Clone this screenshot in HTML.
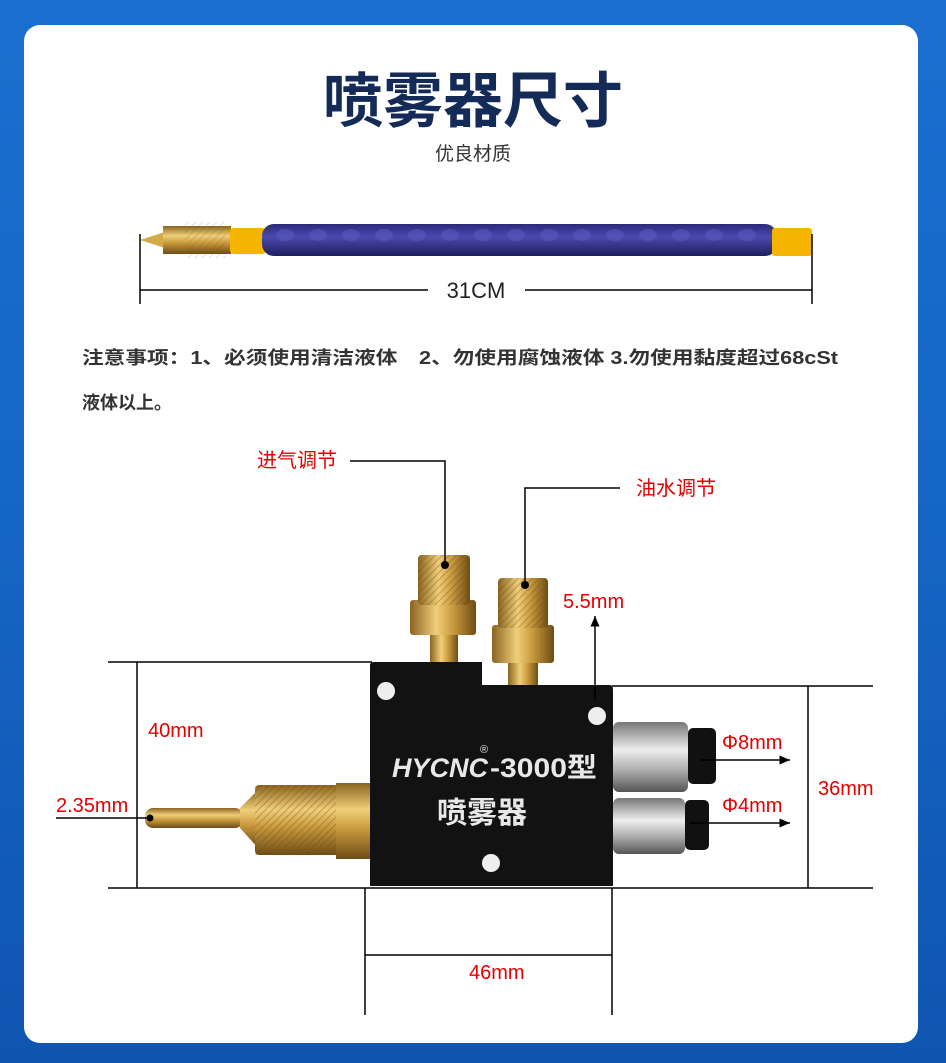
<!DOCTYPE html>
<html><head><meta charset="utf-8"><style>
html,body{margin:0;padding:0;width:946px;height:1063px;overflow:hidden;}
body{background:linear-gradient(180deg,#1a6fd0 0%,#1565c4 50%,#0f55b0 100%);font-family:"Liberation Sans","Noto Sans CJK SC",sans-serif;position:relative;}
.card{position:absolute;left:24px;top:25px;width:894px;height:1018px;background:#fff;border-radius:16px;}
svg{position:absolute;left:0;top:0;}
</style></head><body>
<div class="card"></div>
<svg width="946" height="1063" viewBox="0 0 946 1063" font-family="Liberation Sans, Noto Sans CJK SC, sans-serif">
<defs>
<linearGradient id="brass" x1="0" y1="0" x2="0" y2="1"><stop offset="0" stop-color="#8a6420"/><stop offset=".35" stop-color="#f0cf7a"/><stop offset=".6" stop-color="#c99a3e"/><stop offset="1" stop-color="#6e4c15"/></linearGradient>
<linearGradient id="brassv" x1="0" y1="0" x2="1" y2="0"><stop offset="0" stop-color="#8a6420"/><stop offset=".4" stop-color="#f0cf7a"/><stop offset=".65" stop-color="#c99a3e"/><stop offset="1" stop-color="#6e4c15"/></linearGradient>
<linearGradient id="silver" x1="0" y1="0" x2="0" y2="1"><stop offset="0" stop-color="#777"/><stop offset=".4" stop-color="#eee"/><stop offset=".7" stop-color="#aaa"/><stop offset="1" stop-color="#555"/></linearGradient>
<linearGradient id="purple" x1="0" y1="0" x2="0" y2="1"><stop offset="0" stop-color="#2a2a7a"/><stop offset=".4" stop-color="#4a4ab0"/><stop offset="1" stop-color="#1e1e5e"/></linearGradient>
<pattern id="knurl" width="5" height="5" patternUnits="userSpaceOnUse" patternTransform="rotate(45)"><rect width="5" height="5" fill="none"/><line x1="0" y1="0" x2="0" y2="5" stroke="#6b4a12" stroke-width="1.2" opacity=".6"/></pattern>
<marker id="ar" markerWidth="8" markerHeight="8" refX="7" refY="4" orient="auto"><path d="M0,1 L7,4 L0,7 z" fill="#000"/></marker>
</defs>
<text x="473" y="122" text-anchor="middle" font-size="60" font-weight="bold" fill="#142a57">喷雾器尺寸</text>
<text x="473" y="160" text-anchor="middle" font-size="19" fill="#333">优良材质</text>

<!-- hose -->
<path d="M140,240 L165,232 L165,248 z" fill="#d4a94a"/>
<rect x="163" y="226" width="68" height="28" fill="url(#brass)"/>
<rect x="185" y="222" width="40" height="36" fill="url(#knurl)" opacity=".5"/>
<rect x="230" y="228" width="36" height="26" rx="4" fill="#f5b400"/>
<rect x="262" y="224" width="515" height="32" rx="12" fill="url(#purple)"/>
<g fill="#5858c0" opacity=".6">
<ellipse cx="285" cy="235" rx="9" ry="6"/><ellipse cx="318" cy="235" rx="9" ry="6"/><ellipse cx="351" cy="235" rx="9" ry="6"/><ellipse cx="384" cy="235" rx="9" ry="6"/><ellipse cx="417" cy="235" rx="9" ry="6"/><ellipse cx="450" cy="235" rx="9" ry="6"/><ellipse cx="483" cy="235" rx="9" ry="6"/><ellipse cx="516" cy="235" rx="9" ry="6"/><ellipse cx="549" cy="235" rx="9" ry="6"/><ellipse cx="582" cy="235" rx="9" ry="6"/><ellipse cx="615" cy="235" rx="9" ry="6"/><ellipse cx="648" cy="235" rx="9" ry="6"/><ellipse cx="681" cy="235" rx="9" ry="6"/><ellipse cx="714" cy="235" rx="9" ry="6"/><ellipse cx="747" cy="235" rx="9" ry="6"/>
</g>
<rect x="772" y="228" width="40" height="28" rx="3" fill="#f5b400"/>
<line x1="140" y1="234" x2="140" y2="304" stroke="#000" stroke-width="1.5"/>
<line x1="812" y1="234" x2="812" y2="304" stroke="#000" stroke-width="1.5"/>
<line x1="140" y1="290" x2="428" y2="290" stroke="#000" stroke-width="1.5"/>
<line x1="525" y1="290" x2="812" y2="290" stroke="#000" stroke-width="1.5"/>
<text x="476" y="298" text-anchor="middle" font-size="22" fill="#222">31CM</text>

<text x="82" y="364" font-size="18" font-weight="bold" fill="#333" textLength="756" lengthAdjust="spacingAndGlyphs">注意事项：1、必须使用清洁液体　2、勿使用腐蚀液体 3.勿使用黏度超过68cSt</text>
<text x="82" y="409" font-size="18" font-weight="bold" fill="#333">液体以上。</text>

<!-- knobs -->
<rect x="430" y="630" width="28" height="35" fill="url(#brassv)"/>
<rect x="410" y="600" width="66" height="35" rx="3" fill="url(#brassv)"/>
<rect x="418" y="555" width="52" height="50" rx="4" fill="url(#brassv)"/>
<rect x="418" y="555" width="52" height="50" fill="url(#knurl)"/>
<rect x="508" y="658" width="30" height="30" fill="url(#brassv)"/>
<rect x="492" y="625" width="62" height="38" rx="3" fill="url(#brassv)"/>
<rect x="498" y="578" width="50" height="50" rx="4" fill="url(#brassv)"/>
<rect x="498" y="578" width="50" height="50" fill="url(#knurl)"/>

<!-- block -->
<path d="M370,665 Q370,662 374,662 L482,662 L482,685 L610,685 Q613,685 613,690 L613,886 L370,886 z" fill="#121212"/>
<circle cx="386" cy="691" r="9" fill="#eee"/>
<circle cx="597" cy="716" r="9" fill="#eee"/>
<circle cx="491" cy="863" r="9" fill="#eee"/>
<text x="392" y="777" font-size="27" font-weight="bold" font-style="italic" fill="#e8e8e8">HYCNC</text>
<text x="480" y="753" font-size="11" fill="#e8e8e8">®</text>
<text x="490" y="777" font-size="27" font-weight="bold" fill="#e8e8e8" textLength="107" lengthAdjust="spacingAndGlyphs">-3000型</text>
<text x="437" y="823" font-size="30" font-weight="bold" fill="#e8e8e8">喷雾器</text>

<!-- nozzle left -->
<rect x="145" y="808" width="98" height="20" rx="8" fill="url(#brass)"/>
<path d="M240,808 L258,790 L258,848 L240,828 z" fill="url(#brass)"/>
<rect x="255" y="785" width="85" height="70" rx="4" fill="url(#brass)"/>
<rect x="255" y="785" width="85" height="70" fill="url(#knurl)"/>
<rect x="336" y="783" width="34" height="76" fill="url(#brass)"/>

<!-- right fittings -->
<rect x="613" y="722" width="75" height="70" rx="6" fill="url(#silver)"/>
<rect x="688" y="728" width="28" height="56" rx="5" fill="#111"/>
<rect x="613" y="798" width="72" height="56" rx="6" fill="url(#silver)"/>
<rect x="685" y="800" width="24" height="50" rx="5" fill="#111"/>

<!-- dimension lines -->
<g stroke="#000" stroke-width="1.5" fill="none">
<line x1="108" y1="662" x2="372" y2="662"/>
<line x1="108" y1="888" x2="612" y2="888"/>
<line x1="612" y1="686" x2="873" y2="686"/>
<line x1="612" y1="888" x2="873" y2="888"/>
<line x1="137" y1="662" x2="137" y2="888"/>
<line x1="808" y1="686" x2="808" y2="888"/>
<line x1="365" y1="888" x2="365" y2="1015"/>
<line x1="612" y1="888" x2="612" y2="1015"/>
<line x1="365" y1="955" x2="612" y2="955"/>
<polyline points="350,461 445,461 445,565"/>
<polyline points="620,488 525,488 525,585"/>
<line x1="595" y1="700" x2="595" y2="616" marker-end="url(#ar)"/>
<line x1="700" y1="760" x2="790" y2="760" marker-end="url(#ar)"/>
<line x1="690" y1="823" x2="790" y2="823" marker-end="url(#ar)"/>
<line x1="56" y1="818" x2="150" y2="818"/>
</g>
<circle cx="445" cy="565" r="4" fill="#000"/>
<circle cx="525" cy="585" r="4" fill="#000"/>
<circle cx="150" cy="818" r="3.5" fill="#000"/>

<g font-size="20" fill="#e60000">
<text x="257" y="467">进气调节</text>
<text x="636" y="495">油水调节</text>
<text x="563" y="608">5.5mm</text>
<text x="148" y="737">40mm</text>
<text x="56" y="812">2.35mm</text>
<text x="722" y="749">Φ8mm</text>
<text x="722" y="812">Φ4mm</text>
<text x="818" y="795">36mm</text>
<text x="469" y="979">46mm</text>
</g>
</svg>
</body></html>
